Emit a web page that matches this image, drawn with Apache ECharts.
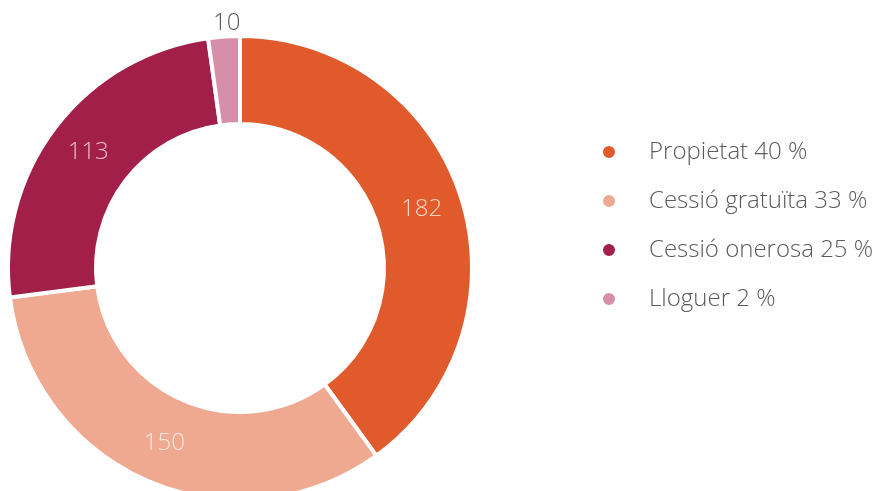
<!DOCTYPE html>
<html>
<head>
    <meta charset="utf-8">
    <script src="https://cdn.jsdelivr.net/npm/echarts@6/dist/echarts.min.js"></script>
    <style>
        html, body { margin: 0; padding: 0; background: #fff; }
    </style>
</head>
<body>
    <div id="main" style="width: 883px;height:491px;"></div>
    <script type="text/javascript">

    var categories = ['Propietat', 'Cessió gratuïta', 'Cessió onerosa', 'Lloguer'];
    var values = [182, 150, 113, 10];
    var percents = [40, 33, 25, 2];
    var colors = ['#E05A2B', '#F0A991', '#A11F49', '#D78FA9'];
    var labelColors = ['#FAD3C2', '#FBE7DF', '#F1BFD0', '#595959'];

    var myChart = echarts.init(document.getElementById('main'));

    var data = categories.map(function (name, i) {
        var item = {
            name: name,
            value: values[i],
            itemStyle: {color: colors[i]},
            label: {color: labelColors[i]}
        };
        // the small slice has its number above the ring
        if (i === 3) {
            item.label.offset = [0, -54];
        }
        return item;
    });

    myChart.setOption({
        animation: false,
        legend: {
            orient: 'vertical',
            left: 596,
            top: 135,
            itemGap: 25,
            icon: 'circle',
            itemWidth: 14,
            itemHeight: 14,
            textStyle: {
                fontFamily: 'Open Sans',
                fontWeight: 300,
                fontSize: 24,
                lineHeight: 24,
                color: '#5a5a5a',
                padding: [0, 0, 0, 28]
            },
            formatter: function (name) {
                return name + ' ' + percents[categories.indexOf(name)] + ' %';
            }
        },
        series: [
            {
                type: 'pie',
                center: [240, 268],
                radius: [144, 232],
                startAngle: 90,
                clockwise: true,
                itemStyle: {
                    borderColor: '#fff',
                    borderWidth: 4
                },
                label: {
                    show: true,
                    position: 'inside',
                    fontFamily: 'Open Sans',
                    fontWeight: 300,
                    fontSize: 24,
                    formatter: '{c}'
                },
                labelLine: {show: false},
                data: data
            }
        ]
    });

</script>
</body>
</html>
